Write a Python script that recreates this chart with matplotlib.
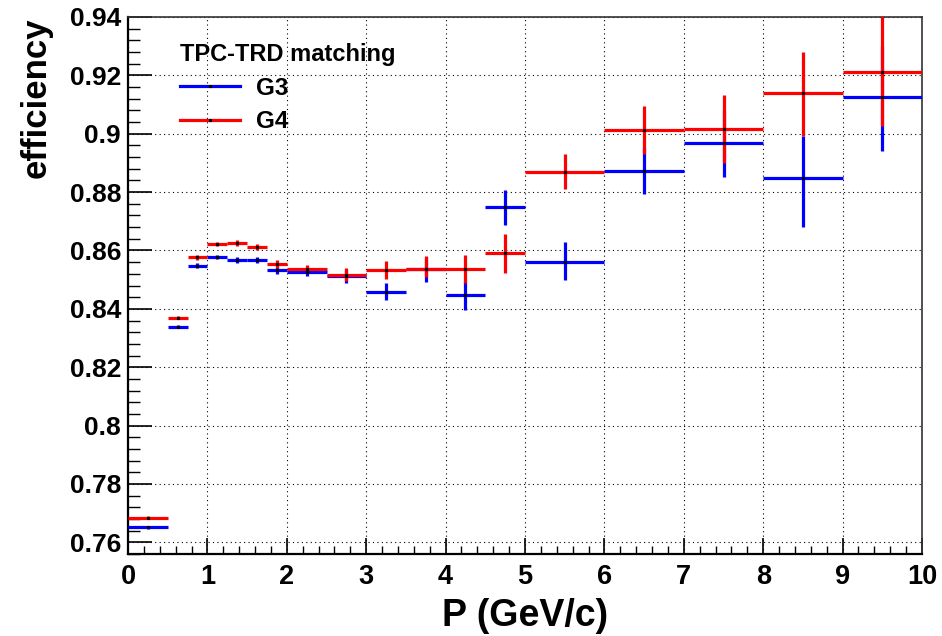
import matplotlib
matplotlib.use("Agg")
import matplotlib.pyplot as plt
from matplotlib.lines import Line2D
from matplotlib.ticker import MultipleLocator
import numpy as np

# Momentum bins (GeV/c)
bin_edges = [0.0, 0.5, 0.75, 1.0, 1.25, 1.5, 1.75, 2.0, 2.5, 3.0, 3.5, 4.0, 4.5,
             5.0, 6.0, 7.0, 8.0, 9.0, 10.0]

# TPC-TRD matching efficiency, Geant3
g3_eff = [0.7651, 0.8339, 0.8548, 0.8578, 0.8567, 0.8567, 0.8532, 0.8527, 0.8511,
          0.8459, 0.8535, 0.8447, 0.8750, 0.8561, 0.8874, 0.8967, 0.8850, 0.9127]
g3_err_lo = [0.0006, 0.0005, 0.0009, 0.0007, 0.0009, 0.0010, 0.0013, 0.0015, 0.0022,
             0.0030, 0.0042, 0.0051, 0.0063, 0.0063, 0.0082, 0.0115, 0.0168, 0.0185]
g3_err_hi = [0.0006, 0.0005, 0.0009, 0.0007, 0.0009, 0.0010, 0.0013, 0.0015, 0.0022,
             0.0030, 0.0040, 0.0050, 0.0057, 0.0069, 0.0082, 0.0115, 0.0141, 0.0175]

# TPC-TRD matching efficiency, Geant4
g4_eff = [0.7685, 0.8369, 0.8576, 0.8621, 0.8627, 0.8613, 0.8553, 0.8537, 0.8517,
          0.8533, 0.8537, 0.8537, 0.8592, 0.8868, 0.9012, 0.9017, 0.9140, 0.9211]
g4_err_lo = [0.0006, 0.0005, 0.0007, 0.0007, 0.0010, 0.0010, 0.0014, 0.0014, 0.0023,
             0.0031, 0.0027, 0.0047, 0.0069, 0.0057, 0.0083, 0.0117, 0.0149, 0.0185]
g4_err_hi = [0.0006, 0.0005, 0.0007, 0.0007, 0.0010, 0.0010, 0.0014, 0.0014, 0.0023,
             0.0031, 0.0043, 0.0047, 0.0066, 0.0061, 0.0083, 0.0115, 0.0139, 0.0200]

series_labels = ["G3", "G4"]
series_colors = ["#0000ff", "#ff0000"]
legend_title = "TPC-TRD matching"

plt.rcParams["font.family"] = ["Liberation Sans", "DejaVu Sans"]
plt.rcParams["font.weight"] = "bold"

edges = np.asarray(bin_edges)
centers = 0.5 * (edges[:-1] + edges[1:])
half_w = 0.5 * (edges[1:] - edges[:-1])

fig = plt.figure(figsize=(9.42, 6.36), dpi=100)
ax = fig.add_axes([128 / 942, 1 - 554 / 636, 794 / 942, 537 / 636])

series = [
    (g3_eff, g3_err_lo, g3_err_hi),
    (g4_eff, g4_err_lo, g4_err_hi),
]
for (eff, lo, hi), color in zip(series, series_colors):
    ax.errorbar(centers, eff, xerr=half_w, yerr=[lo, hi], fmt="none",
                ecolor=color, elinewidth=2.3, capsize=0, zorder=3)
    ax.plot(centers, eff, linestyle="none", marker="s", ms=1.3,
            color="black", zorder=4)

ax.set_xlim(0, 10)
ax.set_ylim(0.756, 0.94)

ax.xaxis.set_major_locator(MultipleLocator(1))
ax.xaxis.set_minor_locator(MultipleLocator(0.2))
ax.yaxis.set_major_locator(MultipleLocator(0.02))
ax.yaxis.set_minor_locator(MultipleLocator(0.004))
ax.yaxis.set_major_formatter(plt.FuncFormatter(
    lambda v, p: f"{v:.2f}".rstrip("0").rstrip(".")))

ax.tick_params(axis="both", which="both", direction="in", top=False, right=False,
               color="black")
ax.tick_params(axis="x", which="major", length=11.5, width=1.2, labelsize=19.5, pad=7)
ax.tick_params(axis="x", which="minor", length=5.8, width=1.0)
ax.tick_params(axis="y", which="major", length=17.3, width=1.2, labelsize=19, pad=5)
ax.tick_params(axis="y", which="minor", length=8.6, width=1.0)
for lbl in ax.get_xticklabels() + ax.get_yticklabels():
    lbl.set_fontweight("bold")

ax.grid(True, which="major", linestyle=(0, (1, 3)), color="black", linewidth=0.8)
ax.set_axisbelow(True)

for side in ("left", "bottom"):
    ax.spines[side].set_linewidth(1.6)
    ax.spines[side].set_color("black")
for side in ("top", "right"):
    ax.spines[side].set_linewidth(1.2)
    ax.spines[side].set_color("#333333")

ax.set_xlabel("P (GeV/c)", fontsize=27, fontweight="bold", labelpad=6)
ax.set_ylabel("efficiency", fontsize=25, fontweight="bold", loc="top", labelpad=12)

handles = [Line2D([0], [0], color=c, lw=2.3, marker="s", ms=1.3,
                  markerfacecolor="black", markeredgecolor="black")
           for c in series_colors]
leg = ax.legend(handles, series_labels, title=legend_title, loc="upper left",
                bbox_to_anchor=(0.066, 0.952), frameon=False, fontsize=17.5,
                title_fontproperties={"weight": "bold", "size": 17},
                handlelength=2.45, handletextpad=0.65, labelspacing=0.42,
                borderpad=0, borderaxespad=0)
leg._legend_box.align = "left"
leg._legend_box.sep = 8
for t in leg.get_texts():
    t.set_fontweight("bold")

fig.savefig("out.png", dpi=100, facecolor="white")
